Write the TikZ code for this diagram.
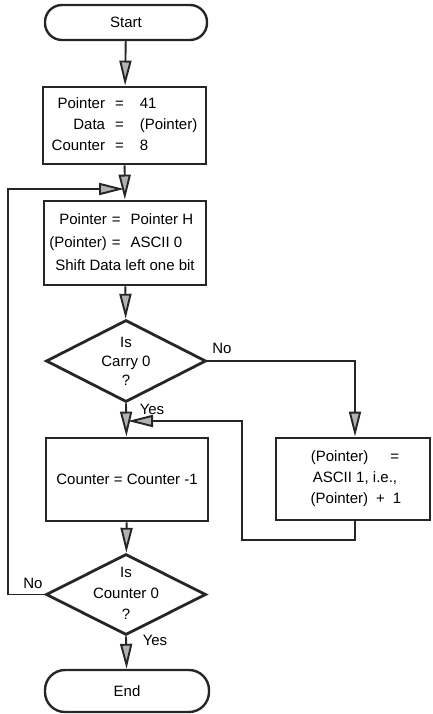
\documentclass[tikz,border=0pt]{standalone}
\usepackage{fontspec}
\setmainfont{Liberation Sans}
\usetikzlibrary{arrows.meta,shapes.geometric}
\begin{document}
\begin{tikzpicture}[x=1pt,y=-1pt,
  every node/.style={font=\fontsize{15}{21}\selectfont},
  box/.style={draw=black!85, line width=2.8pt, fill=white, inner sep=0pt},
  term/.style={draw=black!85, line width=2.4pt, inner sep=0pt},
  dia/.style={diamond, draw=black!85, line width=2.8pt, inner sep=0pt},
  flow/.style={draw=black!85, line width=1.9pt},
  arr/.style={flow, -{Triangle[length=25pt,width=12pt,fill=gray!60]}},
  lbl/.style={inner sep=0pt},
]
\useasboundingbox (0,0) rectangle (432,714);
% terminals
\node[term, rounded corners=17pt, minimum width=162pt, minimum height=35pt] (start) at (126,22.5) {Start};
\node[term, rounded corners=20pt, minimum width=164pt, minimum height=42pt] (end) at (127,691) {End};
% boxes
\node[box, minimum width=163pt, minimum height=77pt] (b1) at (124.5,125.5)
  {\begin{tabular}{@{}r@{\hspace{10pt}}c@{\hspace{16pt}}l@{}}Pointer & = & 41\\ Data & = & (Pointer)\\ Counter & = & 8\end{tabular}};
\node[box, minimum width=162pt, minimum height=84pt, font=\fontsize{15}{23}\selectfont] (b2) at (125,243)
  {\begin{tabular}{@{}r@{\hspace{5pt}}c@{\hspace{10pt}}l@{}}Pointer & = & Pointer H\\ (Pointer) & = & ASCII 0\\ \multicolumn{3}{c}{Shift Data left one bit}\end{tabular}};
\node[box, minimum width=162pt, minimum height=83pt] (b4) at (127,479.5) {\raisebox{-3pt}{Counter = Counter -1}};
\node[box, minimum width=154pt, minimum height=82pt, align=center] (b3) at (353,479)
  {\hspace{4pt}(Pointer)\hspace{22pt}=\\\hspace{4pt}ASCII 1, i.e.,\\\hspace{6pt}(Pointer)\hspace{8pt}+\hspace{8pt}1};
% decisions
\node[dia, minimum width=160pt, minimum height=82pt] (d1) at (126,361) {};
\node[align=center, font=\fontsize{15}{19}\selectfont] (t1) at (126,361) {Is\\Carry 0\\?};
\node[dia, minimum width=160pt, minimum height=81pt] (d2) at (126,594.5) {};
\node[align=center, font=\fontsize{15}{21}\selectfont] (t2) at (126,593) {Is\\Counter 0\\?};
% labels
\node[lbl] (no1) at (222,348) {No};
\node[lbl] (yes1) at (152,409) {Yes};
\node[lbl] (no2) at (33,583) {No};
\node[lbl] (yes2) at (155,640) {Yes};
% coordinates
\coordinate (r1) at (242,540);
\coordinate (j1) at (128,421);
\coordinate (l1) at (8,189);
\coordinate (j2) at (124,189);
% connectors
\draw[arr] (start) -- (b1);
\draw[arr] (b1) -- (b2);
\draw[arr] (b2) -- (d1);
\draw[arr] (d1.south) -- (b4);
\draw[arr] (d1.east) -| ([xshift=2pt]b3.north);
\draw[arr] ([xshift=2pt]b3.south) |- (r1) |- (j1);
\draw[arr] (b4) -- (d2);
\draw[arr] (d2.west) -| (l1) -- (j2);
\draw[arr] (d2.south) -- (end);
\end{tikzpicture}
\end{document}
